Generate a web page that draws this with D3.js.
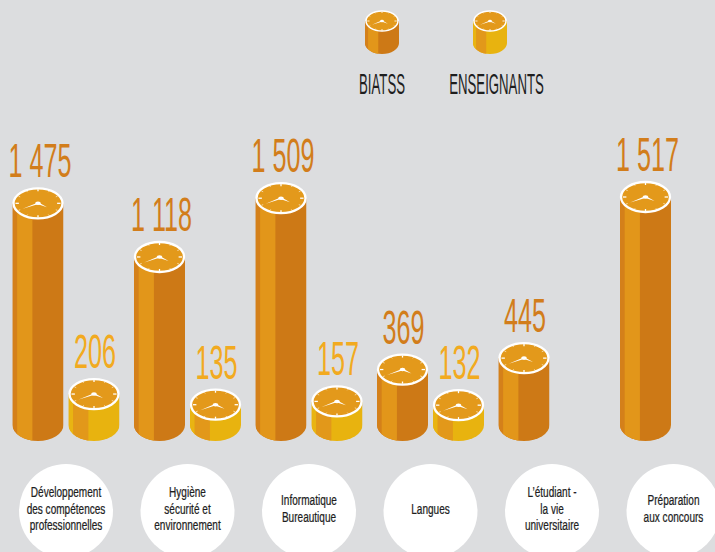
<!DOCTYPE html>
<html lang="fr">
<head>
<meta charset="utf-8">
<script src="https://cdn.jsdelivr.net/npm/d3@7/dist/d3.min.js"></script>
<style>
  html, body { margin: 0; padding: 0; background: #dcdddf; }
  svg { display: block; }
  text { font-family: "Liberation Sans Narrow", "Arial Narrow", "Liberation Sans", sans-serif; }
</style>
</head>
<body>
<svg id="chart" width="715" height="552"></svg>
<script>
// Heures de formation par domaine et par public
const categories = [
  "Développement des compétences professionnelles",
  "Hygiène sécurité et environnement",
  "Informatique Bureautique",
  "Langues",
  "L’étudiant - la vie universitaire",
  "Préparation aux concours"
];
const categoryLines = [
  ["Développement", "des compétences", "professionnelles"],
  ["Hygiène", "sécurité et", "environnement"],
  ["Informatique", "Bureautique"],
  ["Langues"],
  ["L’étudiant -", "la vie", "universitaire"],
  ["Préparation", "aux concours"]
];
const series = ["BIATSS", "ENSEIGNANTS"];
const biatss = [1475, 1118, 1509, 369, 445, 1517];
const enseignants = [206, 135, 157, 132, null, null];

const svg = d3.select("#chart");

const palette = {
  BIATSS: { edge: "#d4801a", stripe: "#e2961a", body: "#cd7916", label: "#d27d1b" },
  ENSEIGNANTS: { edge: "#e9b412", stripe: "#e2981a", body: "#e8b30f", label: "#f2aa20" }
};
const faceColor = "#e3991b";

const x0 = d3.scalePoint().domain(categories).range([66, 673.5]);
const x1 = d3.scalePoint().domain(series).range([-28, 28]);
const y = d3.scaleLinear()
  .domain([0, d3.max(biatss.concat(enseignants.filter(v => v != null)))])
  .range([425, 197]);

const fr = d3.formatLocale({ decimal: ",", thousands: "\u00a0", grouping: [3], currency: ["", " €"] });
const fmt = fr.format(",d");

let clipId = 0;
const defs = svg.append("defs");

// cylinder with a clock face on top
function cylinder(g, cx, topY, baseY, rx, ry, col) {
  const id = "cyl" + (clipId++);
  defs.append("clipPath").attr("id", id)
    .append("path")
    .attr("d", `M${cx - rx},${topY} L${cx - rx},${baseY} A${rx},${ry} 0 0 0 ${cx + rx},${baseY} L${cx + rx},${topY} Z`);
  const side = g.append("g").attr("clip-path", `url(#${id})`);
  const h = baseY - topY + ry + 2;
  const e1 = cx - rx + rx * 0.18, e2 = cx - rx * 0.22;
  side.append("rect").attr("x", cx - rx).attr("y", topY).attr("width", 2 * rx).attr("height", h).attr("fill", col.body);
  side.append("rect").attr("x", cx - rx).attr("y", topY).attr("width", e1 - (cx - rx)).attr("height", h).attr("fill", col.edge);
  side.append("rect").attr("x", e1).attr("y", topY).attr("width", e2 - e1).attr("height", h).attr("fill", col.stripe);

  const k = ry / rx;
  g.append("ellipse").attr("cx", cx).attr("cy", topY).attr("rx", rx - 1).attr("ry", ry - 1)
    .attr("fill", faceColor).attr("stroke", "#fff").attr("stroke-width", Math.max(1.5, rx / 11));

  const pt = (r, a) => [cx + r * Math.cos(a), topY + r * Math.sin(a) * k];
  const R = rx - 1;
  const ticks = d3.range(12).map(i => {
    const a = i * Math.PI / 6 - Math.PI / 2;
    const major = i % 3 === 0;
    const p1 = pt(R * (major ? 0.78 : 0.84), a), p2 = pt(R * 0.92, a);
    return { p1, p2, major };
  });
  g.selectAll(null).data(ticks).enter().append("line")
    .attr("x1", d => d.p1[0]).attr("y1", d => d.p1[1])
    .attr("x2", d => d.p2[0]).attr("y2", d => d.p2[1])
    .attr("stroke", "#fff").attr("stroke-opacity", d => d.major ? 1 : 0.7)
    .attr("stroke-width", d => d.major ? rx / 20 : rx / 30);

  const hand = (a, len, w) => {
    const tip = pt(R * len, a);
    const b1 = pt(w, a + Math.PI / 2), b2 = pt(w, a - Math.PI / 2);
    return `M${b1[0]},${b1[1]} L${tip[0]},${tip[1]} L${b2[0]},${b2[1]} Z`;
  };
  g.append("path").attr("d", hand(150 * Math.PI / 180, 0.72, rx / 22)).attr("fill", "#fff");
  g.append("path").attr("d", hand(35 * Math.PI / 180, 0.45, rx / 18)).attr("fill", "#fff");
  g.append("ellipse").attr("cx", cx).attr("cy", topY).attr("rx", rx / 9).attr("ry", rx / 9 * k).attr("fill", "#fff");
}

// measure widths to condense the type horizontally
function measure(str, size) {
  const t = svg.append("text").attr("font-size", size).text(str);
  const w = t.node().getComputedTextLength();
  t.remove();
  return w;
}

// Bars
const rx = 25.5, ry = 16;
const rows = [];
categories.forEach((c, i) => {
  rows.push({ cat: c, s: "BIATSS", v: biatss[i] });
  rows.push({ cat: c, s: "ENSEIGNANTS", v: enseignants[i] });
});
const numSx = 42 / measure("206", 48);
const bars = svg.append("g");
rows.filter(d => d.v != null).forEach(d => {
  const cx = x0(d.cat) + x1(d.s);
  const topY = y(d.v);
  cylinder(bars.append("g"), cx, topY, y(0), rx, ry, palette[d.s]);
  const label = fmt(d.v);
  bars.append("text")
    .attr("transform", `translate(${cx + (d.v >= 1000 ? 2 : 1)},${topY - ry - 10}) scale(${numSx},1)`)
    .attr("text-anchor", "middle")
    .attr("font-size", 48)
    .attr("fill", palette[d.s].label)
    .text(label);
});

// Category discs
const catSx = 68 / measure("Développement", 14);
const cats = svg.append("g");
categories.forEach((c, i) => {
  const cx = x0(c);
  cats.append("circle").attr("cx", cx).attr("cy", 511).attr("r", 47).attr("fill", "#fff");
  const lines = categoryLines[i];
  lines.forEach((ln, j) => {
    const by = 513.5 + (j - (lines.length - 1) / 2) * 16.5;
    cats.append("text")
      .attr("transform", `translate(${cx},${by}) scale(${catSx},1)`)
      .attr("text-anchor", "middle")
      .attr("font-size", 14.5)
      .attr("fill", "#1e1e1e")
      .attr("stroke", "#1e1e1e")
      .attr("stroke-width", 0.25)
      .text(ln);
  });
});

// Legend
const legSx = 46 / measure("BIATSS", 30);
const legend = svg.append("g");
const legendPos = { BIATSS: { icon: 382, text: 382 }, ENSEIGNANTS: { icon: 490, text: 496.5 } };
series.forEach(s => {
  cylinder(legend.append("g"), legendPos[s].icon, 21, 43, 17, 11, palette[s]);
  legend.append("text")
    .attr("transform", `translate(${legendPos[s].text},94) scale(${legSx},1)`)
    .attr("text-anchor", "middle")
    .attr("font-size", 30)
    .attr("fill", "#1e1e1e")
    .text(s);
});
</script>
</body>
</html>
